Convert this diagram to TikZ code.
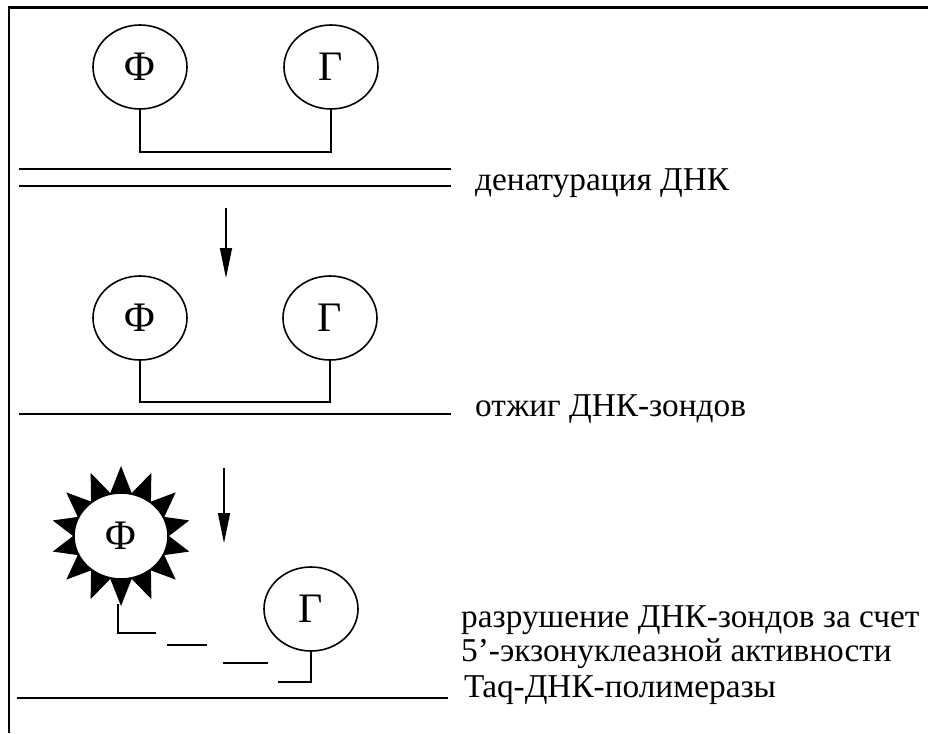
\documentclass[tikz,border=0pt]{standalone}
\usepackage{fontspec}
\setmainfont{Liberation Serif}
\usetikzlibrary{shapes.geometric,arrows.meta}
\begin{document}
\begin{tikzpicture}[x=1pt,y=-1pt,
  blob/.style={draw,ellipse,line width=1.6pt,minimum width=94pt,minimum height=84pt,inner sep=0pt,font=\fontsize{42}{44}\selectfont,fill=white},
  strand/.style={line width=2.6pt},
  link/.style={line width=1.5pt},
  lbl/.style={anchor=base west,inner sep=0pt,font=\fontsize{33.3}{36}\selectfont},
  flow/.style={line width=1.3pt,-{Triangle[length=30pt,width=12pt]}}]
\useasboundingbox (0,0) rectangle (928,733);
% frame
\draw[line width=2.6pt] (9,733) -- (9,7.5) -- (928,7.5);
% ---- panel 1
\node[blob] (phi1) at (140,67) {Φ};
\node[blob] (gam1) at (331,67) {Γ};
\coordinate (bar1) at (0,152);
\draw[link] (phi1.south) -- (phi1.south |- bar1) -| (gam1.south);
\coordinate (d1a) at (19,169); \coordinate (d1b) at (451,169);
\coordinate (d2a) at (19,186); \coordinate (d2b) at (451,186);
\draw[strand] (d1a) -- (d1b);
\draw[strand] (d2a) -- (d2b);
\node[lbl] (t1) at (475,190) {денатурация ДНК};
% arrow 1
\coordinate (a1s) at (226,208); \coordinate (a1e) at (226,278);
\draw[flow] (a1s) -- (a1e);
% ---- panel 2
\node[blob] (phi2) at (140,318) {Φ};
\node[blob] (gam2) at (330,318) {Γ};
\coordinate (bar2) at (0,402);
\draw[link] (phi2.south) -- (phi2.south |- bar2) -| (gam2.south);
\coordinate (s2a) at (19,414); \coordinate (s2b) at (451,414);
\draw[strand] (s2a) -- (s2b);
\node[lbl] (t2) at (475,416) {отжиг ДНК-зондов};
% arrow 2
\coordinate (a2s) at (224,468); \coordinate (a2e) at (224,543);
\draw[flow] (a2s) -- (a2e);
% ---- panel 3
\fill[black] ({121+48*cos(-0.5*25.714+12.857)},{536+44*sin(-0.5*25.714+12.857)})
  \foreach \k in {0,...,13} {
    -- ({121+70*cos(\k*25.714+12.857)},{536+70*sin(\k*25.714+12.857)})
    -- ({121+48*cos((\k+0.5)*25.714+12.857)},{536+44*sin((\k+0.5)*25.714+12.857)})
  } -- cycle;
\node[blob,minimum width=94pt,minimum height=86pt] (phi3) at (121,536) {Φ};
\coordinate (sp) at (118,604);
\coordinate (f1) at (156,633);
\draw[link] (sp) |- (f1);
\coordinate (f2a) at (167,645); \coordinate (f2b) at (207,645);
\draw[link] (f2a) -- (f2b);
\coordinate (f3a) at (223,663); \coordinate (f3b) at (268,663);
\draw[link] (f3a) -- (f3b);
\node[blob] (gam3) at (311,609) {Γ};
\coordinate (f4) at (278,682);
\draw[link] (gam3.south) |- (f4);
\coordinate (s3a) at (17,698); \coordinate (s3b) at (448,698);
\draw[strand] (s3a) -- (s3b);
\node[lbl] (t3) at (461,627) {разрушение ДНК-зондов за счет};
\node[lbl] (t4) at (461,661) {5’-экзонуклеазной активности};
\node[lbl] (t5) at (464,697) {Taq-ДНК-полимеразы};
\end{tikzpicture}
\end{document}
